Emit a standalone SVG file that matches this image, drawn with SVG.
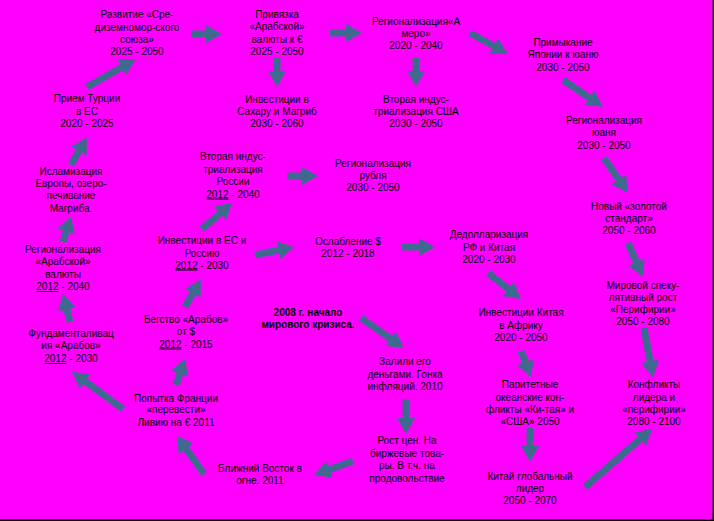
<svg xmlns="http://www.w3.org/2000/svg" width="714" height="521" viewBox="0 0 714 521">
<style>
text{font-family:"Liberation Sans",Arial,sans-serif;font-size:10px;fill:#000;text-anchor:middle}
.b{font-weight:bold}
.u{text-decoration:underline}
.arr{fill:#3E6A90}
</style>
<rect x="0" y="0" width="714" height="521" fill="#FF00FF"/>
<rect x="712.5" y="0" width="1.5" height="521" fill="#000"/>
<rect x="0" y="519.5" width="714" height="1.5" fill="#000"/>
<g id="connectors">
<polygon class="arr" transform="translate(87,87) rotate(-29.7)" points="0,-3.5 40,-3.5 40,-9 56,0 40,9 40,3.5 0,3.5"/>
<polygon class="arr" transform="translate(71,165) rotate(-60.3)" points="0,-3.5 16,-3.5 16,-9 32,0 16,9 16,3.5 0,3.5"/>
<polygon class="arr" transform="translate(63,242) rotate(-72.9)" points="0,-3.5 11,-3.5 11,-9 27,0 11,9 11,3.5 0,3.5"/>
<polygon class="arr" transform="translate(70,322) rotate(-104)" points="0,-3.5 13,-3.5 13,-9 29,0 13,9 13,3.5 0,3.5"/>
<polygon class="arr" transform="translate(123,409) rotate(-144)" points="0,-3.5 47,-3.5 47,-9 63,0 47,9 47,3.5 0,3.5"/>
<polygon class="arr" transform="translate(204,474) rotate(-125.4)" points="0,-3.5 31,-3.5 31,-9 47,0 31,9 31,3.5 0,3.5"/>
<polygon class="arr" transform="translate(353,461) rotate(160.3)" points="0,-3.5 25,-3.5 25,-9 41,0 25,9 25,3.5 0,3.5"/>
<polygon class="arr" transform="translate(406,399) rotate(90)" points="0,-3.5 19,-3.5 19,-9 35,0 19,9 19,3.5 0,3.5"/>
<polygon class="arr" transform="translate(361,318) rotate(34.9)" points="0,-3.5 36,-3.5 36,-9 52,0 36,9 36,3.5 0,3.5"/>
<polygon class="arr" transform="translate(176,385) rotate(-71.6)" points="0,-3.5 12,-3.5 12,-9 28,0 12,9 12,3.5 0,3.5"/>
<polygon class="arr" transform="translate(185,307) rotate(-60.3)" points="0,-3.5 16,-3.5 16,-9 32,0 16,9 16,3.5 0,3.5"/>
<polygon class="arr" transform="translate(202,229) rotate(-40.9)" points="0,-3.5 24,-3.5 24,-9 40,0 24,9 24,3.5 0,3.5"/>
<polygon class="arr" transform="translate(287,176) rotate(0)" points="0,-3.5 15,-3.5 15,-9 31,0 15,9 15,3.5 0,3.5"/>
<polygon class="arr" transform="translate(255,255) rotate(-11.6)" points="0,-3.5 24,-3.5 24,-9 40,0 24,9 24,3.5 0,3.5"/>
<polygon class="arr" transform="translate(402,247) rotate(0)" points="0,-3.5 17,-3.5 17,-9 33,0 17,9 17,3.5 0,3.5"/>
<polygon class="arr" transform="translate(488,273) rotate(38.2)" points="0,-3.5 26,-3.5 26,-9 42,0 26,9 26,3.5 0,3.5"/>
<polygon class="arr" transform="translate(521,351) rotate(69)" points="0,-3.5 12,-3.5 12,-9 28,0 12,9 12,3.5 0,3.5"/>
<polygon class="arr" transform="translate(530,428) rotate(90)" points="0,-3.5 18,-3.5 18,-9 34,0 18,9 18,3.5 0,3.5"/>
<polygon class="arr" transform="translate(585,487) rotate(-40.9)" points="0,-3.5 73,-3.5 73,-9 89,0 73,9 73,3.5 0,3.5"/>
<polygon class="arr" transform="translate(644,328) rotate(79.6)" points="0,-3.5 34,-3.5 34,-9 50,0 34,9 34,3.5 0,3.5"/>
<polygon class="arr" transform="translate(628,243) rotate(66.2)" points="0,-3.5 21,-3.5 21,-9 37,0 21,9 21,3.5 0,3.5"/>
<polygon class="arr" transform="translate(604,158) rotate(55.6)" points="0,-3.5 26,-3.5 26,-9 42,0 26,9 26,3.5 0,3.5"/>
<polygon class="arr" transform="translate(563,80) rotate(34)" points="0,-3.5 32,-3.5 32,-9 48,0 32,9 32,3.5 0,3.5"/>
<polygon class="arr" transform="translate(470,33) rotate(28.9)" points="0,-3.5 27,-3.5 27,-9 43,0 27,9 27,3.5 0,3.5"/>
<polygon class="arr" transform="translate(416,58) rotate(90)" points="0,-3.5 13,-3.5 13,-9 29,0 13,9 13,3.5 0,3.5"/>
<polygon class="arr" transform="translate(330,33) rotate(0)" points="0,-3.5 16,-3.5 16,-9 32,0 16,9 16,3.5 0,3.5"/>
<polygon class="arr" transform="translate(277,58) rotate(90)" points="0,-3.5 13,-3.5 13,-9 29,0 13,9 13,3.5 0,3.5"/>
<polygon class="arr" transform="translate(191,34) rotate(0)" points="0,-3.5 15,-3.5 15,-9 31,0 15,9 15,3.5 0,3.5"/>
</g>
<g id="n1"><text><tspan x="137" y="18">Развитие «Сре-</tspan><tspan x="137" y="30.5">диземномор-ского</tspan><tspan x="137" y="42.5">союза»</tspan><tspan x="137" y="55">2025 - 2050</tspan></text></g>
<g id="n2"><text><tspan x="87" y="102">Прием Турции</tspan><tspan x="87" y="114.5">в ЕС</tspan><tspan x="87" y="127">2020 - 2025</tspan></text></g>
<g id="n3"><text><tspan x="71" y="175">Исламизация</tspan><tspan x="71" y="187">Европы, озеро-</tspan><tspan x="71" y="199">печивание</tspan><tspan x="71" y="211.5">Магриба.</tspan></text></g>
<g id="n4"><text><tspan x="63" y="252.5">Регионализация</tspan><tspan x="63" y="265">«Арабской»</tspan><tspan x="63" y="277.5">валюты</tspan><tspan x="63" y="290"><tspan class="u">2012</tspan> - 2040</tspan></text></g>
<g id="n5"><text><tspan x="71" y="336.5">Фундаменталивац</tspan><tspan x="71" y="348.5">ия «Арабов»</tspan><tspan x="71" y="362"><tspan class="u">2012</tspan> - 2030</tspan></text></g>
<g id="n6"><text><tspan x="186" y="322.5">Бегство «Арабов»</tspan><tspan x="186" y="335">от $</tspan><tspan x="186" y="347.5"><tspan class="u">2012</tspan> - 2015</tspan></text></g>
<g id="n7"><text><tspan x="176" y="401.5">Попытка Франции</tspan><tspan x="176" y="413">«перевести»</tspan><tspan x="176" y="426">Ливию на € 2011</tspan></text></g>
<g id="n8"><text><tspan x="260" y="471.5">Ближний Восток в</tspan><tspan x="260" y="484">огне. 2011</tspan></text></g>
<g id="n9"><text><tspan x="407" y="443.5">Рост цен. На</tspan><tspan x="407" y="456.5">биржевые това-</tspan><tspan x="407" y="469">ры. В т.ч. на</tspan><tspan x="407" y="481.5">продовольствие</tspan></text></g>
<g id="n10"><text><tspan x="405" y="365">Залили его</tspan><tspan x="405" y="377.5">деньгами. Гонка</tspan><tspan x="405" y="390">инфляций. 2010</tspan></text></g>
<g id="n11"><text class="b"><tspan x="308" y="315.5">2008 г. начало</tspan><tspan x="308" y="327.5">мирового кризиса.</tspan></text></g>
<g id="n12"><text><tspan x="202" y="244">Инвестиции в ЕС и</tspan><tspan x="202" y="256.5">Россию</tspan><tspan x="202" y="268.5"><tspan class="u">2012</tspan> - 2030</tspan></text></g>
<g id="n13"><text><tspan x="233" y="160">Вторая индус-</tspan><tspan x="233" y="172.5">триализация</tspan><tspan x="233" y="185">России</tspan><tspan x="233" y="197.5"><tspan class="u">2012</tspan> - 2040</tspan></text></g>
<g id="n14"><text><tspan x="373" y="166.5">Регионализация</tspan><tspan x="373" y="179">рубля</tspan><tspan x="373" y="191">2030 - 2050</tspan></text></g>
<g id="n15"><text><tspan x="348" y="244.5">Ослабление $</tspan><tspan x="348" y="256.5">2012 - 2018</tspan></text></g>
<g id="n16"><text><tspan x="489" y="237.5">Дедолларизация</tspan><tspan x="489" y="250.5">РФ и Китая</tspan><tspan x="489" y="262.5">2020 - 2030</tspan></text></g>
<g id="n17"><text><tspan x="521" y="316">Инвестиции Китая</tspan><tspan x="521" y="328.5">в Африку</tspan><tspan x="521" y="340.5">2020 - 2050</tspan></text></g>
<g id="n18"><text><tspan x="530" y="387.5">Паритетные</tspan><tspan x="530" y="400.5">океанские кон-</tspan><tspan x="530" y="412.5">фликты «Ки-тая» и</tspan><tspan x="530" y="425">«США» 2050</tspan></text></g>
<g id="n19"><text><tspan x="530" y="479.5">Китай глобальный</tspan><tspan x="530" y="491.5">лидер</tspan><tspan x="530" y="504">2050 - 2070</tspan></text></g>
<g id="n20"><text><tspan x="654" y="387.5">Конфликты</tspan><tspan x="654" y="400.5">лидера и</tspan><tspan x="654" y="412.5">«перифирии»</tspan><tspan x="654" y="425">2080 - 2100</tspan></text></g>
<g id="n21"><text><tspan x="643" y="288.5">Мировой спеку-</tspan><tspan x="643" y="300.5">лятивный рост</tspan><tspan x="643" y="312.5">«Перифирии»</tspan><tspan x="643" y="325">2050 - 2080</tspan></text></g>
<g id="n22"><text><tspan x="629" y="209.5">Новый «золотой</tspan><tspan x="629" y="221.5">стандарт»</tspan><tspan x="629" y="234">2050 - 2060</tspan></text></g>
<g id="n23"><text><tspan x="604" y="124">Регионализация</tspan><tspan x="604" y="136">юаня</tspan><tspan x="604" y="148.5">2030 - 2050</tspan></text></g>
<g id="n24"><text><tspan x="563" y="45.5">Примыкание</tspan><tspan x="563" y="58">Японии к юаню</tspan><tspan x="563" y="71">2030 - 2050</tspan></text></g>
<g id="n25"><text><tspan x="416" y="25">Регионализация«А</tspan><tspan x="416" y="36.5">меро»</tspan><tspan x="416" y="48.5">2020 - 2040</tspan></text></g>
<g id="n26"><text><tspan x="416" y="102.5">Вторая индус-</tspan><tspan x="416" y="115">триализация США</tspan><tspan x="416" y="126.5">2030 - 2050</tspan></text></g>
<g id="n27"><text><tspan x="277" y="18">Привязка</tspan><tspan x="277" y="30">«Арабской»</tspan><tspan x="277" y="42.5">валюты к  €</tspan><tspan x="277" y="55">2025 - 2050</tspan></text></g>
<g id="n28"><text><tspan x="277" y="102.5">Инвестиции в</tspan><tspan x="277" y="115">Сахару и Магриб</tspan><tspan x="277" y="126.5">2030 - 2060</tspan></text></g>
</svg>
